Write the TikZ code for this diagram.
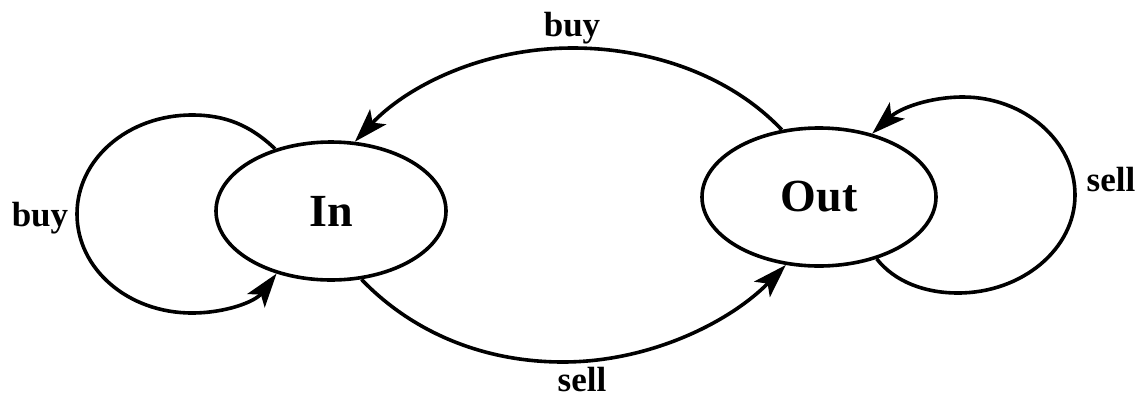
\documentclass[tikz,border=0pt]{standalone}
\usepackage{fontspec}
\setmainfont{Liberation Serif}
\usetikzlibrary{shapes.geometric,arrows.meta}
\begin{document}
\begin{tikzpicture}[x=1pt,y=-1pt,
  state/.style={ellipse,draw,line width=3.6pt,inner sep=0pt,font=\fontsize{46}{50}\selectfont\bfseries},
  edge/.style={line width=3.6pt,-{Stealth[length=34pt,width=22pt,inset=8pt]}},
  lbl/.style={anchor=base,inner sep=0pt,font=\fontsize{35}{40}\selectfont\bfseries}]
\useasboundingbox (0,0) rectangle (1143,400);
\node[state,minimum width=230pt,minimum height=138pt] (in) at (331,211) {In};
\node[state,minimum width=234pt,minimum height=138pt] (out) at (819,197) {Out};
% left self loop
\draw[edge] (in.132) .. controls (250,125) and (225,115) .. (192,115)
  .. controls (128,115) and (77,159) .. (77,214)
  .. controls (77,269) and (128,313) .. (192,313)
  .. controls (225,313) and (255,302) .. (in.229);
% right self loop
\draw[edge] (out.-47) .. controls (895,282) and (925,293) .. (958,293)
  .. controls (1022,293) and (1075,249) .. (1075,195)
  .. controls (1075,141) and (1024,97) .. (963,97)
  .. controls (930,97) and (900,108) .. (out.50);
% top arc out -> in
\draw[edge] (out.119) .. controls (730,75) and (650,48) .. (573,48)
  .. controls (480,48) and (405,88) .. (in.71);
% bottom arc in -> out
\draw[edge] (in.-66) .. controls (410,330) and (480,362) .. (563,362)
  .. controls (650,362) and (730,322) .. (out.244);
\node[lbl] (l1) at (40,226) {buy};
\node[lbl] (l2) at (572,36) {buy};
\node[lbl] (l3) at (1111,191) {sell};
\node[lbl] (l4) at (582,391) {sell};
\end{tikzpicture}
\end{document}
